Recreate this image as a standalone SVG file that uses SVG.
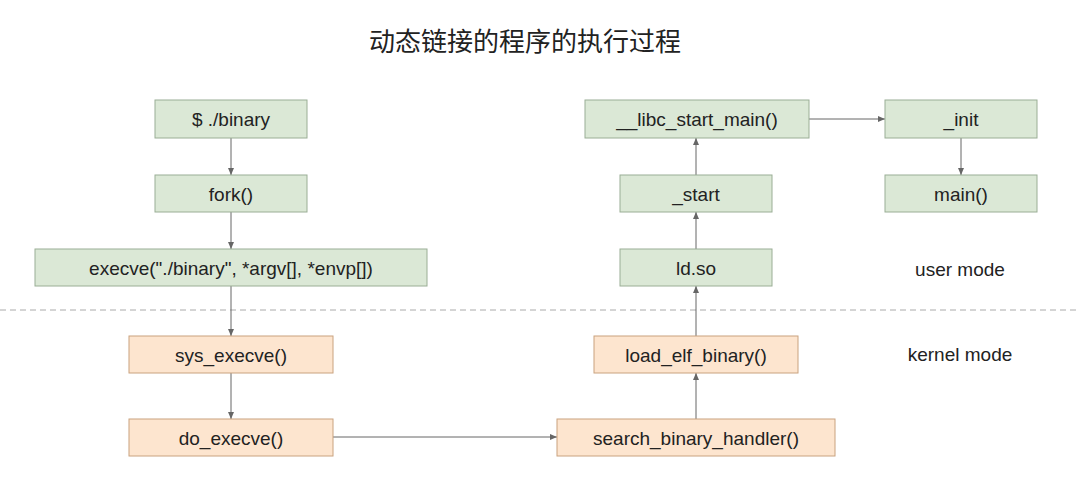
<svg xmlns="http://www.w3.org/2000/svg" width="1076" height="481" viewBox="0 0 1076 481">
<style>
.g{fill:#dbe8d6;stroke:#9aae95;stroke-width:1}
.o{fill:#fde5cf;stroke:#c9a27f;stroke-width:1}
text{font-family:"Liberation Sans","Noto Sans CJK SC",sans-serif;font-size:19px;fill:#222;text-anchor:middle;dominant-baseline:central}
.c{stroke:#666;stroke-width:1;fill:none;marker-end:url(#a)}
</style>
<defs><marker id="a" markerWidth="8" markerHeight="8" refX="7" refY="4" orient="auto" markerUnits="userSpaceOnUse"><path d="M0,1 L7,4 L0,7 z" fill="#666"/></marker></defs>
<rect width="1076" height="481" fill="#fff"/>
<text x="525" y="42" style="font-size:26px">动态链接的程序的执行过程</text>
<line x1="0" y1="310" x2="1076" y2="310" stroke="#aaa" stroke-dasharray="6,4"/>
<text x="960" y="269">user mode</text>
<text x="960" y="354">kernel mode</text>
<g id="connectors">
<path class="c" d="M231,138 V175"/>
<path class="c" d="M231,212 V249"/>
<path class="c" d="M231,286 V336"/>
<path class="c" d="M231,373 V419"/>
<path class="c" d="M333,437 H557"/>
<path class="c" d="M696,419 V373"/>
<path class="c" d="M696,336 V286"/>
<path class="c" d="M696,249 V212"/>
<path class="c" d="M696,175 V138"/>
<path class="c" d="M809,119 H885"/>
<path class="c" d="M961,138 V175"/>
</g>
<g id="n1"><rect class="g" x="155" y="100" width="152" height="38"/><text x="231" y="119">$ ./binary</text></g>
<g id="n2"><rect class="g" x="155" y="175" width="152" height="37"/><text x="231" y="194">fork()</text></g>
<g id="n3"><rect class="g" x="35" y="249" width="392" height="37"/><text x="231" y="268">execve("./binary", *argv[], *envp[])</text></g>
<g id="n4"><rect class="o" x="129" y="336" width="204" height="37"/><text x="231" y="355">sys_execve()</text></g>
<g id="n5"><rect class="o" x="129" y="419" width="204" height="37"/><text x="231" y="438">do_execve()</text></g>
<g id="n6"><rect class="o" x="557" y="419" width="278" height="37"/><text x="696" y="438">search_binary_handler()</text></g>
<g id="n7"><rect class="o" x="594" y="336" width="204" height="37"/><text x="696" y="355">load_elf_binary()</text></g>
<g id="n8"><rect class="g" x="620" y="249" width="152" height="37"/><text x="696" y="268">ld.so</text></g>
<g id="n9"><rect class="g" x="620" y="175" width="152" height="37"/><text x="696" y="194">_start</text></g>
<g id="n10"><rect class="g" x="585" y="100" width="224" height="38"/><text x="697" y="119">__libc_start_main()</text></g>
<g id="n11"><rect class="g" x="885" y="100" width="152" height="38"/><text x="961" y="119">_init</text></g>
<g id="n12"><rect class="g" x="885" y="175" width="152" height="37"/><text x="961" y="194">main()</text></g>
</svg>
